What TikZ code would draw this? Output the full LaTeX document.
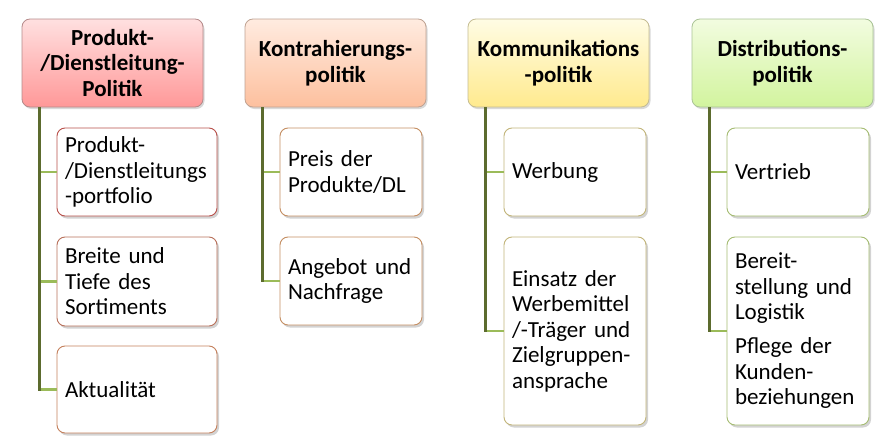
\documentclass[tikz,border=0pt]{standalone}
\usepackage{fontspec}
\setmainfont{Carlito}
\usetikzlibrary{shadows}
\definecolor{hAtop}{HTML}{FFE0E0}
\definecolor{hAbot}{HTML}{FF9898}
\definecolor{hAbd}{HTML}{B58A8A}
\definecolor{hBtop}{HTML}{FFEBE0}
\definecolor{hBbot}{HTML}{FDC09E}
\definecolor{hBbd}{HTML}{BFA292}
\definecolor{hCtop}{HTML}{FFFCE4}
\definecolor{hCbot}{HTML}{FFEA8E}
\definecolor{hCbd}{HTML}{C4BC92}
\definecolor{hDtop}{HTML}{F2FCE0}
\definecolor{hDbot}{HTML}{D2F49E}
\definecolor{hDbd}{HTML}{A9C395}
\definecolor{cA}{HTML}{B8504A}
\definecolor{cAb}{HTML}{B8705A}
\definecolor{cAc}{HTML}{C4805C}
\definecolor{cB}{HTML}{C48E62}
\definecolor{cC}{HTML}{C2B57A}
\definecolor{cD}{HTML}{A5BC72}
\definecolor{vline}{HTML}{5C6B2E}
\definecolor{hline}{HTML}{9BBB59}
\tikzset{
  headbox/.style={rounded corners=8pt, draw, line width=0.8pt,
    minimum width=181pt, minimum height=88pt, inner sep=0pt,
    align=center, font=\fontsize{23}{25.5}\selectfont\bfseries,
    drop shadow={shadow xshift=1.5pt, shadow yshift=-2pt, opacity=0.3}},
  childbox/.style={rounded corners=8pt, draw, line width=0.9pt, fill=white,
    inner xsep=8pt, inner ysep=0pt, align=left,
    font=\fontsize{23}{25.5}\selectfont,
    drop shadow={shadow xshift=2pt, shadow yshift=-2.5pt, opacity=0.35}},
  vconn/.style={draw=vline, line width=2.8pt},
  hconn/.style={draw=hline, line width=2.8pt},
}
\begin{document}
\begin{tikzpicture}[x=1pt,y=-1pt]
\useasboundingbox (0,0) rectangle (887,442);

% headers
\node[headbox, draw=hAbd, top color=hAtop, bottom color=hAbot] (h1) at (112.5,63) {Produkt-\\/Dienstleitung-\\Politik};
\node[headbox, draw=hBbd, top color=hBtop, bottom color=hBbot] (h2) at (335.5,63) {Kontrahierungs-\\politik};
\node[headbox, draw=hCbd, top color=hCtop, bottom color=hCbot] (h3) at (558.5,63) {Kommunikations\\-politik};
\node[headbox, draw=hDbd, top color=hDtop, bottom color=hDbot] (h4) at (782.5,63) {Distributions-\\politik};

% column 1
\node[childbox, draw=cA, text width=144pt, minimum height=88pt] (a1) at (137,172) {Produkt-\\/Dienstleitungs\\-portfolio};
\node[childbox, draw=cAb, text width=144pt, minimum height=89pt] (a2) at (137,281.5) {Breite und\\Tiefe des\\Sortiments};
\node[childbox, draw=cAc, text width=144pt, minimum height=87pt] (a3) at (137,389.5) {Aktualität};

% column 2
\node[childbox, draw=cB, text width=126pt, minimum height=88pt] (b1) at (351,172) {Preis der\\Produkte/DL};
\node[childbox, draw=cB, text width=126pt, minimum height=88pt] (b2) at (351,281) {Angebot und\\Nachfrage};

% column 3
\node[childbox, draw=cC, text width=126pt, minimum height=88pt] (c1) at (575,172) {Werbung};
\node[childbox, draw=cC, text width=126pt, minimum height=188pt] (c2) at (575,331) {Einsatz der\\Werbemittel\\/-Träger und\\Zielgruppen-\\ansprache};

% column 4
\node[childbox, draw=cD, text width=126pt, minimum height=88pt] (d1) at (798,172) {Vertrieb};
\node[childbox, draw=cD, text width=126pt, minimum height=188pt] (d2) at (798,331) {Bereit-\\stellung und\\Logistik\\[8.5pt]Pflege der\\Kunden-\\beziehungen};

% connector roots
\coordinate (r1) at ([xshift=18pt]h1.south west);
\coordinate (r2) at ([xshift=18pt]h2.south west);
\coordinate (r3) at ([xshift=18pt]h3.south west);
\coordinate (r4) at ([xshift=18pt]h4.south west);

% horizontal branches
\draw[hconn] (r1 |- a1.west) -- (a1.west);
\draw[hconn] (r1 |- a2.west) -- (a2.west);
\draw[hconn] (r1 |- a3.west) -- (a3.west);
\draw[hconn] (r2 |- b1.west) -- (b1.west);
\draw[hconn] (r2 |- b2.west) -- (b2.west);
\draw[hconn] (r3 |- c1.west) -- (c1.west);
\draw[hconn] (r3 |- c2.west) -- (c2.west);
\draw[hconn] (r4 |- d1.west) -- (d1.west);
\draw[hconn] (r4 |- d2.west) -- (d2.west);

% vertical trunks
\draw[vconn] (r1) -- ([yshift=-1.4pt]r1 |- a3.west);
\draw[vconn] (r2) -- ([yshift=-1.4pt]r2 |- b2.west);
\draw[vconn] (r3) -- ([yshift=-1.4pt]r3 |- c2.west);
\draw[vconn] (r4) -- ([yshift=-1.4pt]r4 |- d2.west);
\end{tikzpicture}
\end{document}
